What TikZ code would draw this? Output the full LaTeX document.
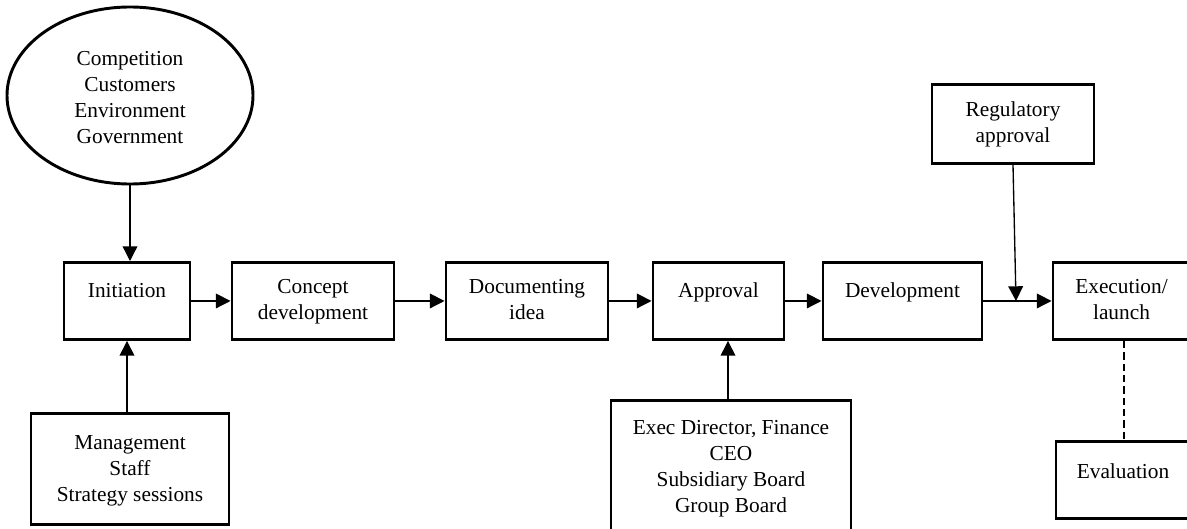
\documentclass[tikz,border=0pt]{standalone}
\usepackage{fontspec}
\setmainfont{Liberation Serif}
\usetikzlibrary{arrows.meta,shapes.geometric}

\begin{document}
\begin{tikzpicture}[x=0.75pt,y=-0.75pt,
  every node/.style={font=\fontsize{16}{19.5}\selectfont},
  box/.style={draw, line width=2.2pt, rectangle, inner xsep=0pt, inner ysep=0pt,
              align=center, anchor=north},
  arr/.style={line width=1pt, -{Triangle[length=11pt,width=11pt]}},
  plain/.style={line width=1.5pt}
]
\useasboundingbox (0,0) rectangle (1187,528);

% external influences
\node[draw, line width=2.2pt, ellipse, inner sep=0pt, align=center,
      minimum width=246*0.75pt, minimum height=177*0.75pt,
      text height=100*0.75pt, text depth=5*0.75pt]
  (env) at (130,95.5) {Competition\\Customers\\Environment\\Government};

% main process chain (top edge y=261, bottom edge y=338)
\node[box, minimum width=126*0.75pt, text height=35*0.75pt, text depth=42*0.75pt]
  (init) at (127,261) {Initiation};
\node[box, minimum width=162*0.75pt, text height=57*0.75pt, text depth=20*0.75pt]
  (conc) at (313,261) {Concept\\development};
\node[box, minimum width=162*0.75pt, text height=57*0.75pt, text depth=20*0.75pt]
  (docu) at (527,261) {Documenting\\idea};
\node[box, minimum width=131*0.75pt, text height=35*0.75pt, text depth=42*0.75pt]
  (appr) at (718.5,261) {Approval};
\node[box, minimum width=159*0.75pt, text height=35*0.75pt, text depth=42*0.75pt]
  (devl) at (902.5,261) {Development};
\node[box, minimum width=137*0.75pt, text height=57*0.75pt, text depth=20*0.75pt]
  (exec) at (1121.5,261) {Execution/\\launch};

% supporting boxes
\node[box, minimum width=198*0.75pt, text height=88*0.75pt, text depth=23*0.75pt]
  (mgmt) at (130,412) {Management\\Staff\\Strategy sessions};
\node[box, minimum width=240*0.75pt, text height=112*0.75pt, text depth=19*0.75pt]
  (board) at (731,399) {Exec Director, Finance\\CEO\\Subsidiary Board\\Group Board};
\node[box, minimum width=162*0.75pt, text height=58*0.75pt, text depth=21*0.75pt]
  (reg) at (1013,83) {Regulatory\\approval};
\node[box, minimum width=134*0.75pt, text height=37*0.75pt, text depth=40*0.75pt]
  (eval) at (1123,440) {Evaluation};

% connectors
\draw[arr] (env.south) -- (env.south |- init.north);
\draw[arr] (init.south |- mgmt.north) -- (init.south);
\draw[arr] (init.east) -- (conc.west);
\draw[arr] (conc.east) -- (docu.west);
\draw[arr] (docu.east) -- (appr.west);
\draw[arr] (appr.east) -- (devl.west);
\draw[arr] (devl.east) -- (exec.west);
\draw[arr] ([xshift=-3*0.75pt]board.north) -- ([xshift=-3*0.75pt]board.north |- appr.south);
\coordinate (join) at (reg.south |- devl.east);
\draw[arr] (reg.south) -- ([xshift=3*0.75pt]join);
\draw[plain, dash pattern=on 5.5pt off 3pt] ([xshift=2*0.75pt]exec.south) -- ([xshift=2*0.75pt]exec.south |- eval.north);
\end{tikzpicture}
\end{document}
